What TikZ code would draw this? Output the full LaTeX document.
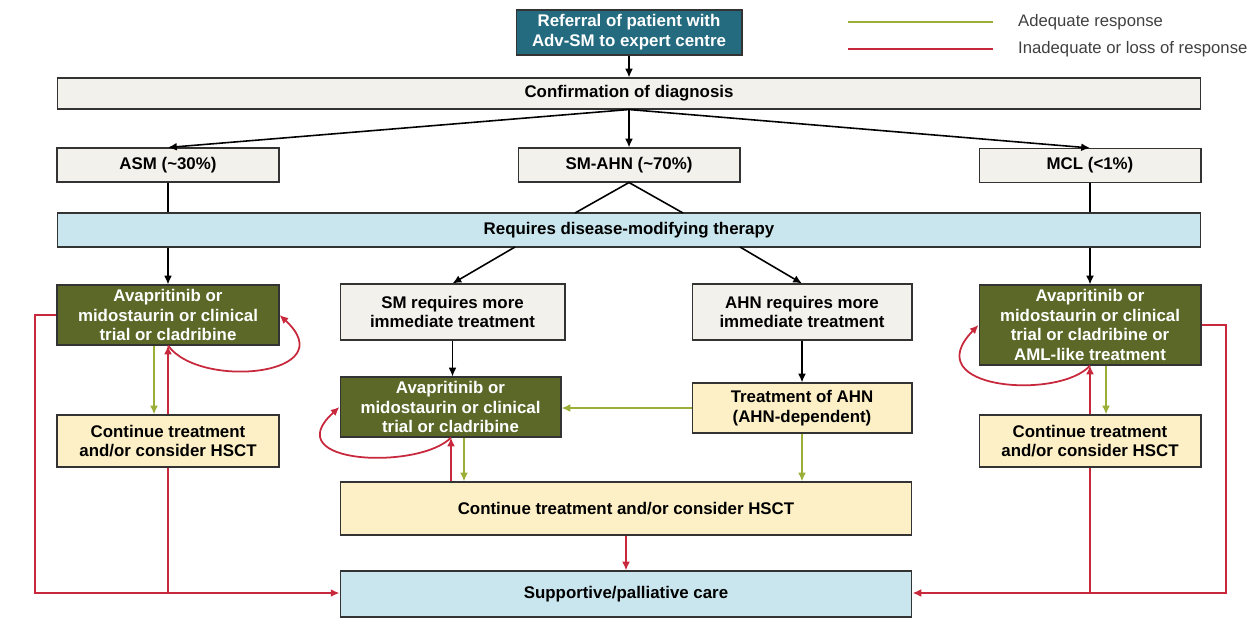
\documentclass[tikz,border=0pt]{standalone}
\usepackage{fontspec}
\setmainfont{Liberation Sans}
\usetikzlibrary{arrows.meta}
\definecolor{refteal}{HTML}{246B80}
\definecolor{olive}{HTML}{5B6828}
\definecolor{boxgrey}{HTML}{F2F1EC}
\definecolor{paleblue}{HTML}{C9E6EE}
\definecolor{paleyellow}{HTML}{FDF0C6}
\definecolor{okgreen}{HTML}{9AAF38}
\definecolor{failred}{HTML}{C8283C}
\tikzset{
  box/.style={draw=black!80, line width=0.6pt, inner sep=1pt, align=center,
    font=\bfseries\fontsize{9.6}{11.3}\selectfont},
  greybox/.style={box, fill=boxgrey},
  bluebox/.style={box, fill=paleblue},
  yellowbox/.style={box, fill=paleyellow},
  drugbox/.style={box, fill=olive, text=white},
  flow/.style={->, line width=0.9pt, black},
  plain/.style={line width=0.9pt, black},
  good/.style={->, line width=1pt, okgreen},
  bad/.style={->, line width=1pt, failred},
  badline/.style={line width=1pt, failred}
}

\begin{document}
\begin{tikzpicture}[x=0.02cm, y=-0.02cm, >={Latex[length=5pt,width=4.5pt]}]
  \useasboundingbox (0,0) rectangle (1256,618);

  % top of the chart
  \node[box, fill=refteal, text=white, minimum width=4.52cm, minimum height=0.9cm]
    (referral) at (629,32.5) {Referral of patient with\\Adv-SM to expert centre};
  \node[greybox, minimum width=22.88cm, minimum height=0.62cm] (diag) at (629,93.5) {Confirmation of diagnosis};
  \node[greybox, minimum width=4.44cm, minimum height=0.68cm] (asm) at (168,165) {ASM (\textasciitilde30\%)};
  \node[greybox, minimum width=4.44cm, minimum height=0.68cm] (smahn) at (629,165) {SM-AHN (\textasciitilde70\%)};
  \node[greybox, minimum width=4.44cm, minimum height=0.68cm] (mcl) at (1090,165.5) {MCL (<1\%)};
  \node[bluebox, minimum width=22.88cm, minimum height=0.68cm] (dmt) at (629,230) {Requires disease-modifying therapy};

  % second level
  \node[drugbox, minimum width=4.44cm, minimum height=1.2cm] (avaL) at (168,315)
    {Avapritinib or\\midostaurin or clinical\\trial or cladribine};
  \node[greybox, minimum width=4.5cm, minimum height=1.12cm] (smreq) at (452.5,312)
    {SM requires more\\immediate treatment};
  \node[greybox, minimum width=4.4cm, minimum height=1.12cm] (ahnreq) at (802,312)
    {AHN requires more\\immediate treatment};
  \node[drugbox, minimum width=4.44cm, minimum height=1.6cm] (avaR) at (1090,325)
    {Avapritinib or\\midostaurin or clinical\\trial or cladribine or\\AML-like treatment};
  \node[drugbox, minimum width=4.42cm, minimum height=1.2cm] (avaM) at (450.5,407)
    {Avapritinib or\\midostaurin or clinical\\trial or cladribine};
  \node[yellowbox, minimum width=4.4cm, minimum height=1.0cm] (ahntx) at (802,408)
    {Treatment of AHN\\(AHN-dependent)};
  \node[yellowbox, minimum width=4.44cm, minimum height=1.04cm] (contL) at (168,441)
    {Continue treatment\\and/or consider HSCT};
  \node[yellowbox, minimum width=4.44cm, minimum height=1.04cm] (contR) at (1090,441)
    {Continue treatment\\and/or consider HSCT};
  \node[yellowbox, minimum width=11.44cm, minimum height=1.06cm] (contM) at (626,508.5)
    {Continue treatment and/or consider HSCT};
  \node[bluebox, minimum width=11.44cm, minimum height=0.92cm] (care) at (626,594)
    {Supportive/palliative care};

  % legend
  \coordinate (okA) at (848,22);
  \coordinate (okB) at (993,22);
  \coordinate (badA) at (848,49);
  \coordinate (badB) at (993,49);
  \draw[okgreen, line width=1pt] (okA) -- (okB);
  \draw[failred, line width=1pt] (badA) -- (badB);
  \node[anchor=west, font=\fontsize{9.5}{11}\selectfont, text=black!75] (okText) at (1012,22) {Adequate response};
  \node[anchor=west, font=\fontsize{9.5}{11}\selectfont, text=black!75] (badText) at (1012,49) {Inadequate or loss of response};

  % helper points
  \coordinate (vL) at (575,213);
  \coordinate (vR) at (683,213);
  \coordinate (dmtL) at (515,247);
  \coordinate (dmtR) at (740,247);
  \coordinate (leftRail) at (35,315);
  \coordinate (leftFoot) at (35,593);
  \coordinate (rightRail) at (1226,325);
  \coordinate (rightFoot) at (1226,593);

  % black connectors
  \path[flow]
    (referral) edge (diag)
    (diag.south) edge (asm.north)
    (diag.south) edge (smahn.north)
    (diag.south) edge (mcl.north)
    (avaL.north |- dmt.south) edge (avaL.north)
    (dmtL) edge (smreq.north)
    (dmtR) edge (ahnreq.north)
    (avaR.north |- dmt.south) edge (avaR.north)
    (smreq.south) edge (smreq.south |- avaM.north)
    (ahnreq) edge (ahntx);
  \draw[plain] (asm.south) -- (asm.south |- dmt.north);
  \draw[plain] (mcl.south) -- (mcl.south |- dmt.north);
  \draw[plain] (vL) -- (smahn.south) -- (vR);

  % adequate response
  \path[good]
    (154,0 |- avaL.south) edge (154,0 |- contL.north)
    (464,0 |- avaM.south) edge (464,0 |- contM.north)
    (1106,0 |- avaR.south) edge (1106,0 |- contR.north)
    (ahntx.west) edge (avaM.east |- ahntx.west)
    (ahntx.south) edge (ahntx.south |- contM.north);

  % inadequate or loss of response
  \path[bad]
    (contL.north) edge (avaL.south)
    (451,0 |- contM.north) edge (451,0 |- avaM.south)
    (contR.north) edge (avaR.south)
    (contM.south) edge (contM.south |- care.north);
  \draw[bad] (avaL.south) .. controls (200,390) and (345,375) .. (avaL.east);
  \draw[bad] (451,0 |- avaM.south) .. controls (420,470) and (275,465) .. (avaM.west);
  \draw[bad] (avaR.south) .. controls (1060,400) and (915,390) .. (avaR.west);
  \draw[bad] (avaL.west) -- (leftRail) -- (leftFoot) -- (care.west |- leftFoot);
  \draw[badline] (contL.south) -- (contL.south |- leftFoot);
  \draw[bad] (avaR.east) -- (rightRail) -- (rightFoot) -- (care.east |- rightFoot);
  \draw[badline] (contR.south) -- (contR.south |- rightFoot);
\end{tikzpicture}
\end{document}
